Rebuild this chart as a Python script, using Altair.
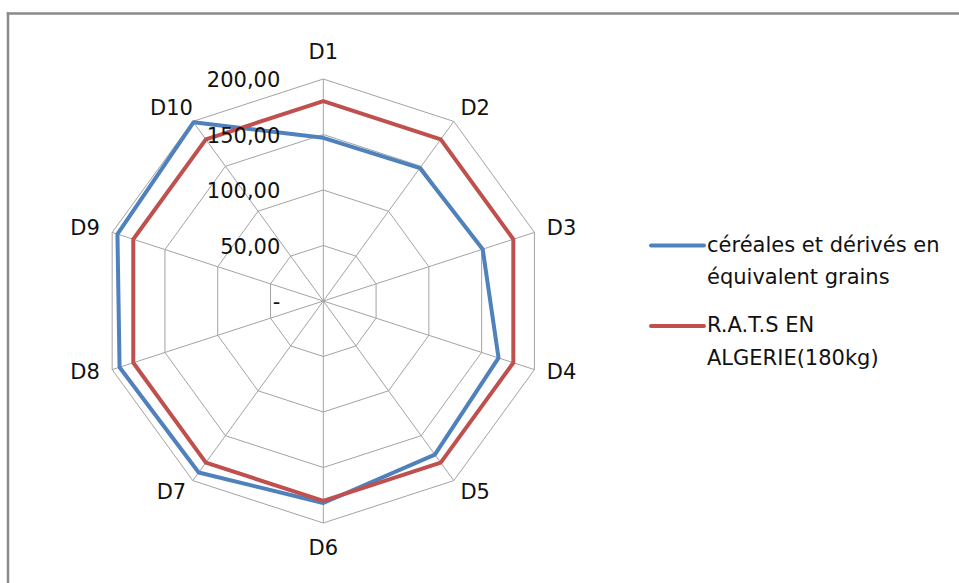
import altair as alt
import pandas as pd

# ---- data ----
dimensions = ["D1", "D2", "D3", "D4", "D5", "D6", "D7", "D8", "D9", "D10"]
cereales = [147, 148, 151, 166, 171, 182, 191, 193, 195, 199]
rats = [180, 180, 180, 180, 180, 180, 180, 180, 180, 180]
tick_values = [0, 50, 100, 150, 200]
tick_labels = ["-", "50,00", "100,00", "150,00", "200,00"]
series_names = ["céréales et dérivés en équivalent grains", "R.A.T.S EN ALGERIE(180kg)"]
legend_lines = [["céréales et dérivés en", "équivalent grains"], ["R.A.T.S EN", "ALGERIE(180kg)"]]
colors = ["#4F81BD", "#C0504D"]

# ---- layout ----
W, H = 959, 583
CX, CY = 323.3, 301.0          # pixel centre of the radar
PX_PER_UNIT = 222.0 / 200.0    # radius of the 200 ring in pixels
N = len(dimensions)
FONT = "DejaVu Sans"
FS = 21
TEXT_COLOR = "#111111"

xs = alt.Scale(domain=[-CX / PX_PER_UNIT, (W - CX) / PX_PER_UNIT], range=[0, W], nice=False, zero=False)
ys = alt.Scale(domain=[-(H - CY) / PX_PER_UNIT, CY / PX_PER_UNIT], range=[H, 0], nice=False, zero=False)
pix = alt.Scale(domain=[0, H], range=[0, H], nice=False, zero=False)


def to_xy(chart):
    return chart.transform_calculate(theta=f"datum.idx * 2 * PI / {N}").transform_calculate(
        px="datum.r * sin(datum.theta)", py="datum.r * cos(datum.theta)"
    )


X = alt.X("px:Q", scale=xs, axis=None)
Y = alt.Y("py:Q", scale=ys, axis=None)

# series table (closed polygons: first point repeated at the end)
rows = []
for s, vals in zip(series_names, [cereales, rats]):
    for i in range(N + 1):
        rows.append({"series": s, "idx": i, "r": vals[i % N]})
series_df = pd.DataFrame(rows)

# grid rings
ring_rows = []
for t in tick_values[1:]:
    for i in range(N + 1):
        ring_rows.append({"ring": t, "idx": i, "r": t})
ring_df = pd.DataFrame(ring_rows)

# spokes
spoke_df = pd.DataFrame({"idx": list(range(N)), "r": [tick_values[-1]] * N, "zero": [0] * N})

grid_color = "#a3a3a3"

spokes = to_xy(alt.Chart(spoke_df)).mark_rule(color=grid_color, strokeWidth=1).encode(
    x=alt.X("zero:Q", scale=xs, axis=None),
    y=alt.Y("zero:Q", scale=ys, axis=None),
    x2="px:Q",
    y2="py:Q",
)

rings = to_xy(alt.Chart(ring_df)).mark_line(color=grid_color, strokeWidth=1).encode(
    x=X, y=Y, detail="ring:N", order="idx:Q"
)

lines = to_xy(alt.Chart(series_df)).mark_line(strokeWidth=4, strokeJoin="round", strokeCap="round").encode(
    x=X,
    y=Y,
    color=alt.Color("series:N", scale=alt.Scale(domain=series_names, range=colors), legend=None),
    order="idx:Q",
    detail="series:N",
)

# category labels set just outside the outer ring, pushed out along the sides
dim_df = pd.DataFrame({"idx": list(range(N)), "label": dimensions})
dim_labels = (
    alt.Chart(dim_df)
    .transform_calculate(theta=f"datum.idx * 2 * PI / {N}")
    .transform_calculate(s="sin(datum.theta)", c="cos(datum.theta)")
    .transform_calculate(
        px="214.4 * datum.s + 10.8 * (datum.s > 0.01 ? 1 : (datum.s < -0.01 ? -1 : 0))",
        py="209 * datum.c + 14.4 * pow(datum.c, 6) * (datum.c > 0 ? 1 : -1)",
    )
    .mark_text(font=FONT, fontSize=FS, color=TEXT_COLOR, align="center", baseline="middle")
    .encode(x=X, y=Y, text="label:N")
)

# radial tick labels along the D1 spoke
tick_df = pd.DataFrame({"value": tick_values, "label": tick_labels, "zero": [0] * len(tick_values)})
tick_text = alt.Chart(tick_df).mark_text(
    font=FONT, fontSize=FS, color=TEXT_COLOR, align="right", baseline="middle", dx=-43, dy=2
).encode(
    x=alt.X("zero:Q", scale=xs, axis=None),
    y=alt.Y("value:Q", scale=ys, axis=None),
    text="label:N",
)

# legend at the right
leg_sym_rows, leg_txt_rows = [], []
for k, (name, parts) in enumerate(zip(series_names, legend_lines)):
    base = 245.5 + k * 80.5
    leg_sym_rows.append({"series": name, "y": base})
    for j, p in enumerate(parts):
        leg_txt_rows.append({"t": p, "y": base + j * 32.5})
leg_sym_df = pd.DataFrame(leg_sym_rows)
leg_txt_df = pd.DataFrame(leg_txt_rows)

leg_sym = alt.Chart(leg_sym_df).mark_rule(strokeWidth=4, strokeCap="round").encode(
    x=alt.value(651),
    x2=alt.value(704),
    y=alt.Y("y:Q", scale=pix, axis=None),
    color=alt.Color("series:N", scale=alt.Scale(domain=series_names, range=colors), legend=None),
)
leg_txt = alt.Chart(leg_txt_df).mark_text(
    font=FONT, fontSize=FS, color=TEXT_COLOR, align="left", baseline="middle"
).encode(
    x=alt.value(707),
    y=alt.Y("y:Q", scale=pix, axis=None),
    text="t:N",
)

# chart frame: top and left edges
frame_top = alt.Chart(pd.DataFrame({"a": [0]})).mark_rule(color="#8a8a8a", strokeWidth=2.5).encode(
    x=alt.value(6.8), x2=alt.value(W), y=alt.value(13.5)
)
frame_left = alt.Chart(pd.DataFrame({"a": [0]})).mark_rule(color="#8a8a8a", strokeWidth=2.5).encode(
    x=alt.value(8), y=alt.value(12.3), y2=alt.value(H)
)

radar = alt.layer(spokes, rings, lines, dim_labels, tick_text).resolve_scale(x="shared", y="shared")
legend = alt.layer(leg_sym, leg_txt)

chart = (
    alt.layer(frame_top, frame_left, radar, legend)
    .resolve_scale(y="independent", color="shared")
    .properties(width=W, height=H, padding=0, autosize=alt.AutoSizeParams(type="none"), background="white")
    .configure_view(stroke=None)
)

chart.save("out.html", embed_options={"renderer": "svg", "actions": False})
